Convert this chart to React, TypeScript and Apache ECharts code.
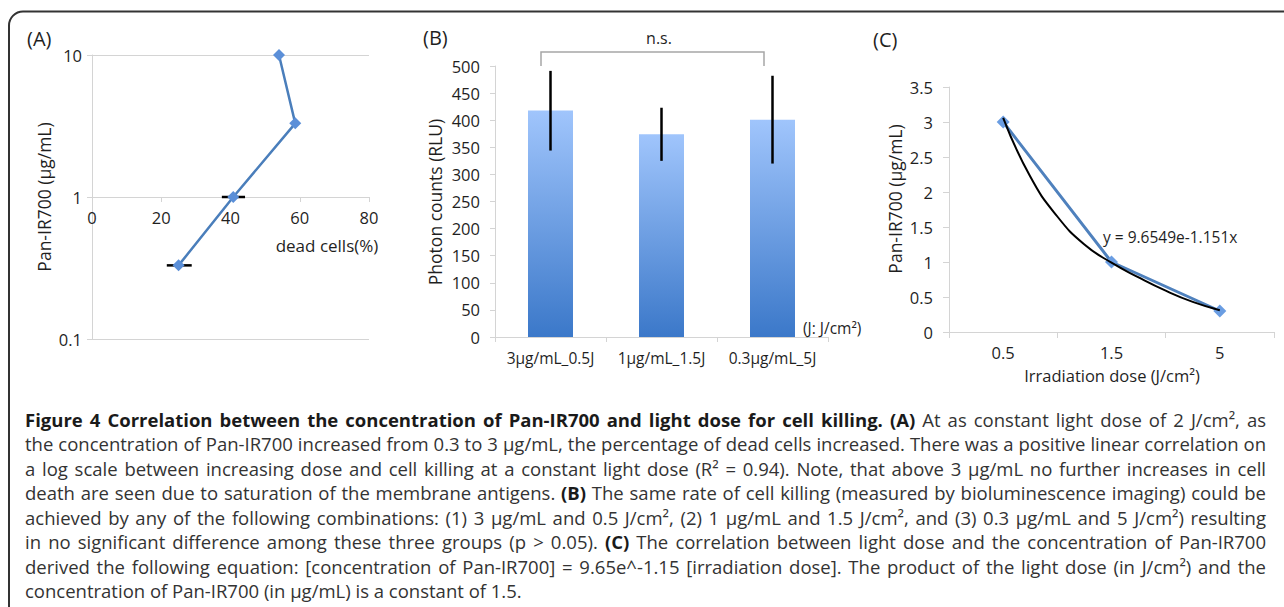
import React, { useEffect, useRef } from "react";
import * as echarts from "echarts";

const FONT = "'Open Sans', sans-serif";
const AXIS_GRAY = "#D4D4D4";
const TEXT = "#1f1f1f";

// ---------- Panel A ----------
const deadCells = [54, 58.7, 40.8, 25];
const panConcA = [10, 3.3, 1, 0.33];
const deadErrLow: (number | null)[] = [null, null, 37.5, 21.6];
const deadErrHigh: (number | null)[] = [null, null, 44.2, 28.8];

// ---------- Panel B ----------
const bCategories = ["3μg/mL_0.5J", "1μg/mL_1.5J", "0.3μg/mL_5J"];
const photonCounts = [418, 374, 401];
const photonErrLow = [344, 325, 320];
const photonErrHigh = [491, 423, 482];

// ---------- Panel C ----------
const doseCategories = ["0.5", "1.5", "5"];
const doseConc = [3, 1, 0.3];
const trendX = [1, 1.25, 1.5, 1.75, 2, 2.25, 2.5, 2.75, 3];
const trendY = [3.06, 2.22, 1.65, 1.25, 0.99, 0.78, 0.59, 0.43, 0.31];

// ---------- Caption ----------
const captionLines: Array<Array<[string, boolean]>> = [
  [
    ["Figure 4 Correlation between the concentration of Pan-IR700 and light dose for cell killing. (A)", true],
    ["At as constant light dose of 2 J/cm², as", false],
  ],
  [["the concentration of Pan-IR700 increased from 0.3 to 3 μg/mL, the percentage of dead cells increased. There was a positive linear correlation on", false]],
  [["a log scale between increasing dose and cell killing at a constant light dose (R² = 0.94). Note, that above 3 μg/mL no further increases in cell", false]],
  [
    ["death are seen due to saturation of the membrane antigens.", false],
    ["(B)", true],
    ["The same rate of cell killing (measured by bioluminescence imaging) could be", false],
  ],
  [["achieved by any of the following combinations: (1) 3 μg/mL and 0.5 J/cm², (2) 1 μg/mL and 1.5 J/cm², and (3) 0.3 μg/mL and 5 J/cm²) resulting", false]],
  [
    ["in no significant difference among these three groups (p > 0.05).", false],
    ["(C)", true],
    ["The correlation between light dose and the concentration of Pan-IR700", false],
  ],
  [["derived the following equation: [concentration of Pan-IR700] = 9.65e^-1.15 [irradiation dose]. The product of the light dose (in J/cm²) and the", false]],
  [["concentration of Pan-IR700 (in μg/mL) is a constant of 1.5.", false]],
];

const CAP_LEFT = 25;
const CAP_RIGHT = 1266;
const CAP_TOP = 419;
const CAP_STEP = 24.5;
const CAP_SIZE = 18.5;

export default function App() {
  const ref = useRef<HTMLDivElement>(null);

  useEffect(() => {
    const el = ref.current!;
    const chart = echarts.init(el, null, { renderer: "svg" });

    const canvas = document.createElement("canvas");
    const ctx = canvas.getContext("2d")!;
    const graphics: any[] = [];

    // frame
    graphics.push({
      type: "rect",
      silent: true,
      shape: { x: 9, y: 11.5, width: 1330, height: 650, r: 14 },
      style: { fill: "none", stroke: "#333333", lineWidth: 2 },
      z: 0,
    });

    const txt = (text: string, x: number, y: number, size: number, opts: any = {}) => ({
      type: "text",
      x,
      y,
      silent: true,
      rotation: opts.rotation || 0,
      style: {
        text,
        font: `${opts.bold ? "bold " : ""}${size}px ${FONT}`,
        fill: opts.fill || TEXT,
        textAlign: opts.align || "left",
        textVerticalAlign: "middle",
      },
      z: 10,
    });

    // panel labels
    graphics.push(txt("(A)", 27, 38, 20));
    graphics.push(txt("(B)", 423, 37, 20));
    graphics.push(txt("(C)", 873, 39, 20));

    // axis titles
    graphics.push(txt("Pan-IR700 (μg/mL)", 44, 197, 17.5, { rotation: Math.PI / 2, align: "center" }));
    graphics.push(txt("dead cells(%)", 327, 245, 17, { align: "center" }));
    graphics.push(txt("Photon counts (RLU)", 435, 202, 17.5, { rotation: Math.PI / 2, align: "center" }));
    graphics.push(txt("(J: J/cm²)", 803, 328, 15.5));
    graphics.push(txt("Pan-IR700 (μg/mL)", 895, 199, 17.5, { rotation: Math.PI / 2, align: "center" }));
    graphics.push(txt("Irradiation dose (J/cm²)", 1112, 375, 16.5, { align: "center" }));
    graphics.push(txt("y = 9.6549e-1.151x", 1103, 237, 15.5));

    // n.s. bracket
    graphics.push(txt("n.s.", 659, 38, 16, { align: "center" }));
    graphics.push({
      type: "polyline",
      silent: true,
      shape: { points: [[541, 66], [541, 52], [764, 52], [764, 66]] },
      style: { stroke: "#A6A6A6", lineWidth: 1.5, fill: "none" },
      z: 10,
    });

    // caption (justified)
    captionLines.forEach((segs, i) => {
      const words: { t: string; b: boolean; w: number }[] = [];
      segs.forEach(([t, b]) => {
        t.split(" ").filter(Boolean).forEach((word) => {
          ctx.font = `${b ? "bold " : ""}${CAP_SIZE}px ${FONT}`;
          words.push({ t: word, b, w: ctx.measureText(word).width });
        });
      });
      const total = words.reduce((s, w) => s + w.w, 0);
      const last = i === captionLines.length - 1;
      ctx.font = `${CAP_SIZE}px ${FONT}`;
      const space = last
        ? ctx.measureText(" ").width
        : (CAP_RIGHT - CAP_LEFT - total) / (words.length - 1);
      let x = CAP_LEFT;
      const y = CAP_TOP + i * CAP_STEP;
      words.forEach((w) => {
        graphics.push(
          txt(w.t, x, y, CAP_SIZE, { bold: w.b, fill: w.b ? "#1a1a1a" : "#333333" })
        );
        x += w.w + space;
      });
    });

    const errA = deadCells
      .map((_, i) => [deadErrLow[i], deadErrHigh[i], panConcA[i]])
      .filter((d) => d[0] != null);
    const errB = photonCounts.map((_, i) => [i, photonErrLow[i], photonErrHigh[i]]);

    const axisLabel = { color: TEXT, fontSize: 16.5, fontFamily: FONT };

    const option: any = {
      animation: false,
      backgroundColor: "#ffffff",
      textStyle: { fontFamily: FONT },
      grid: [
        { left: 92, top: 55, width: 277, height: 284 },
        { left: 495, top: 66, width: 333, height: 271 },
        { left: 949, top: 87, width: 325, height: 245 },
      ],
      xAxis: [
        {
          gridIndex: 0,
          type: "value",
          min: 0,
          max: 80,
          interval: 20,
          offset: -142,
          axisLine: { show: true, lineStyle: { color: AXIS_GRAY, width: 1 } },
          axisTick: { show: true, length: 5, lineStyle: { color: AXIS_GRAY } },
          axisLabel: { ...axisLabel, margin: 12 },
          splitLine: { show: false },
        },
        {
          gridIndex: 1,
          type: "category",
          data: bCategories,
          boundaryGap: true,
          axisLine: { show: true, lineStyle: { color: AXIS_GRAY, width: 1 } },
          axisTick: { show: true, length: 5, interval: 0, alignWithLabel: false, lineStyle: { color: AXIS_GRAY } },
          axisLabel: { ...axisLabel, fontSize: 15.5, margin: 13, interval: 0 },
        },
        {
          gridIndex: 2,
          type: "category",
          data: doseCategories,
          boundaryGap: true,
          axisLine: { show: true, lineStyle: { color: AXIS_GRAY, width: 1 } },
          axisTick: { show: true, length: 6, interval: 0, alignWithLabel: false, lineStyle: { color: AXIS_GRAY } },
          axisLabel: { ...axisLabel, margin: 12, interval: 0 },
        },
        {
          gridIndex: 2,
          type: "value",
          min: 0.5,
          max: 3.5,
          show: false,
        },
      ],
      yAxis: [
        {
          gridIndex: 0,
          type: "log",
          logBase: 10,
          min: 0.1,
          max: 10,
          axisLine: { show: true, lineStyle: { color: AXIS_GRAY, width: 1 } },
          axisTick: { show: true, length: 5, lineStyle: { color: AXIS_GRAY } },
          axisLabel: { ...axisLabel, margin: 10 },
          splitLine: { show: true, lineStyle: { color: AXIS_GRAY, width: 1 } },
        },
        {
          gridIndex: 1,
          type: "value",
          min: 0,
          max: 500,
          interval: 50,
          axisLine: { show: true, lineStyle: { color: AXIS_GRAY, width: 1 } },
          axisTick: { show: true, length: 5, lineStyle: { color: AXIS_GRAY } },
          axisLabel: { ...axisLabel, margin: 15 },
          splitLine: { show: false },
        },
        {
          gridIndex: 2,
          type: "value",
          min: 0,
          max: 3.5,
          interval: 0.5,
          axisLine: { show: true, lineStyle: { color: AXIS_GRAY, width: 1 } },
          axisTick: { show: true, length: 6, lineStyle: { color: AXIS_GRAY } },
          axisLabel: { ...axisLabel, margin: 16 },
          splitLine: { show: false },
        },
      ],
      graphic: { elements: graphics },
      series: [
        {
          type: "custom",
          xAxisIndex: 0,
          yAxisIndex: 0,
          data: errA,
          encode: { x: [0, 1], y: 2 },
          z: 2,
          renderItem: (_p: any, api: any) => {
            const a = api.coord([api.value(0), api.value(2)]);
            const b = api.coord([api.value(1), api.value(2)]);
            return {
              type: "line",
              shape: { x1: a[0], y1: a[1], x2: b[0], y2: b[1] },
              style: { stroke: "#000", lineWidth: 2.5 },
            };
          },
        },
        {
          type: "line",
          xAxisIndex: 0,
          yAxisIndex: 0,
          data: deadCells.map((x, i) => [x, panConcA[i]]),
          symbol: "diamond",
          symbolSize: 12,
          lineStyle: { color: "#4A7EBB", width: 2.5 },
          itemStyle: { color: "#5B8FD8" },
          z: 3,
        },
        {
          type: "bar",
          xAxisIndex: 1,
          yAxisIndex: 1,
          data: photonCounts,
          barWidth: 45,
          itemStyle: {
            color: new echarts.graphic.LinearGradient(0, 0, 0, 1, [
              { offset: 0, color: "#A0C5FC" },
              { offset: 1, color: "#3B78C9" },
            ]),
          },
          z: 2,
        },
        {
          type: "custom",
          xAxisIndex: 1,
          yAxisIndex: 1,
          data: errB,
          encode: { x: 0, y: [1, 2] },
          z: 4,
          renderItem: (_p: any, api: any) => {
            const a = api.coord([api.value(0), api.value(1)]);
            const b = api.coord([api.value(0), api.value(2)]);
            return {
              type: "line",
              shape: { x1: a[0], y1: a[1], x2: b[0], y2: b[1] },
              style: { stroke: "#000", lineWidth: 2.5 },
            };
          },
        },
        {
          type: "line",
          xAxisIndex: 2,
          yAxisIndex: 2,
          data: doseConc,
          symbol: "diamond",
          symbolSize: 13,
          lineStyle: { color: "#4F81BD", width: 3 },
          itemStyle: { color: "#6A9DE2" },
          z: 3,
        },
        {
          type: "line",
          xAxisIndex: 3,
          yAxisIndex: 2,
          data: trendX.map((x, i) => [x, trendY[i]]),
          smooth: 0.5,
          showSymbol: false,
          symbol: "none",
          lineStyle: { color: "#000000", width: 2 },
          z: 4,
        },
      ],
    };

    chart.setOption(option);
    return () => chart.dispose();
  }, []);

  return (
    <div
      ref={ref}
      style={{ position: "fixed", left: 0, top: 0, width: 1284, height: 607, background: "#fff" }}
    />
  );
}
